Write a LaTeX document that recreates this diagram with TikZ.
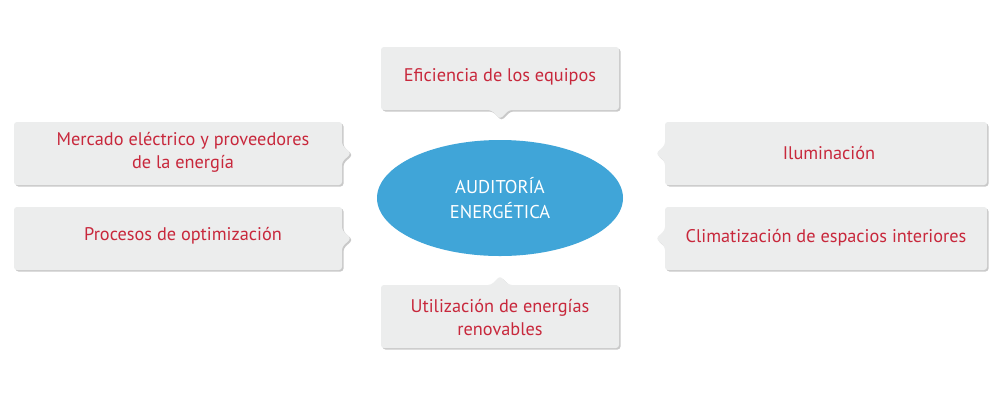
\documentclass[tikz,border=0pt]{standalone}
\usepackage{fontspec}
\setmainfont{PT Sans}
\usetikzlibrary{shadows,shapes.geometric}
\definecolor{boxfill}{HTML}{ECEDED}
\definecolor{txtred}{HTML}{C8283C}
\definecolor{ellblue}{HTML}{40A5D8}
\tikzset{
  card/.style={fill=boxfill,rounded corners=3pt,drop shadow={shadow xshift=1.5pt,shadow yshift=-1.5pt,fill=black!35,opacity=.6}},
  lbl/.style={text=txtred,font=\fontsize{18.3}{23}\selectfont,align=center}
}
\begin{document}
\begin{tikzpicture}[x=1pt,y=-1pt]
\useasboundingbox (0,0) rectangle (1000,400);
\fill[white] (0,0) rectangle (1000,400);
% top
\path[card] (381,47) -- (619,47) -- (619,110) -- (509,110) -- (500,119) -- (491,110) -- (381,110) -- cycle;
% bottom
\path[card] (381,285) -- (491,285) -- (500,276) -- (509,285) -- (619,285) -- (619,348) -- (381,348) -- cycle;
% left
\path[card] (14,122) -- (342,122) -- (342,145) -- (351,153.5) -- (342,162) -- (342,185) -- (14,185) -- cycle;
\path[card] (14,207) -- (342,207) -- (342,230) -- (351,238.5) -- (342,247) -- (342,270) -- (14,270) -- cycle;
% right
\path[card] (665,122) -- (987,122) -- (987,185) -- (665,185) -- (665,162) -- (656,153.5) -- (665,145) -- cycle;
\path[card] (665,207) -- (987,207) -- (987,270) -- (665,270) -- (665,247) -- (656,238.5) -- (665,230) -- cycle;
\node[ellipse,fill=ellblue,minimum width=246pt,minimum height=116pt,text=white,font=\fontsize{18.5}{25}\selectfont,align=center] (c) at (500,198) {AUDITORÍA\\ENERGÉTICA};
\node[lbl] (t) at (500,77) {Eficiencia de los equipos};
\node[lbl] (b) at (500,318) {Utilización de energías\\renovables};
\node[lbl] (l1) at (183,152) {Mercado eléctrico y proveedores\\de la energía};
\node[lbl] (l2) at (183,236) {Procesos de optimización};
\node[lbl] (r1) at (829,153) {Iluminación};
\node[lbl] (r2) at (826,238) {Climatización de espacios interiores};
\end{tikzpicture}
\end{document}
